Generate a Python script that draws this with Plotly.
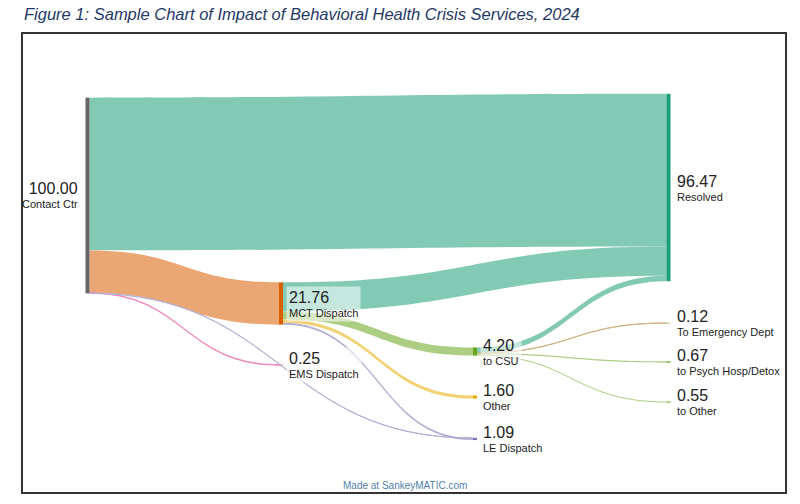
import plotly.graph_objects as go

W, H = 800, 504

# ---------------- data ----------------
node_names = ["Contact Ctr", "Resolved", "MCT Dispatch", "EMS Dispatch", "to CSU",
              "Other", "LE Dispatch", "To Emergency Dept", "to Psych Hosp/Detox", "to Other"]
node_values = ["100.00", "96.47", "21.76", "0.25", "4.20", "1.60", "1.09", "0.12", "0.67", "0.55"]

link_source = ["Contact Ctr", "Contact Ctr", "Contact Ctr", "Contact Ctr",
               "MCT Dispatch", "MCT Dispatch", "MCT Dispatch", "MCT Dispatch",
               "to CSU", "to CSU", "to CSU", "to CSU"]
link_target = ["Resolved", "MCT Dispatch", "EMS Dispatch", "LE Dispatch",
               "Resolved", "to CSU", "Other", "LE Dispatch",
               "Resolved", "To Emergency Dept", "to Psych Hosp/Detox", "to Other"]
link_value = [78.65, 21.76, 0.25, 0.09,
              14.96, 4.20, 1.60, 1.00,
              2.86, 0.12, 0.67, 0.55]

# ---------------- layout / styling ----------------
node_colors = ["#666666", "#1b9e77", "#d95f02", "#e7298a", "#66a61e",
               "#e6ab02", "#7570b3", "#a6761d", "#66a61e", "#66a61e"]
# node centre positions in pixels
node_px = [87.5, 668.5, 281, 281, 475, 475, 475, 668.5, 668.5, 668.5]
node_py = [195.5, 187.5, 303.5, 365, 351.5, 397, 439, 323, 362, 402]
label_side = ["left", "right", "right", "right", "right", "right", "right", "right", "right", "right"]

DX0, DX1 = 80, 680     # sankey area in px
DY0, DY1 = 90, 445
THICK = 4


def blend(h, a):
    h = h.lstrip("#")
    r, g, b = int(h[0:2], 16), int(h[2:4], 16), int(h[4:6], 16)
    f = lambda c: round(255 - a * (255 - c))
    return f"rgb({f(r)},{f(g)},{f(b)})"


idx = {n: i for i, n in enumerate(node_names)}
src = [idx[s] for s in link_source]
tgt = [idx[t] for t in link_target]
link_colors = [blend(node_colors[t], 0.55) for t in tgt]

nx = [(p - DX0) / (DX1 - DX0) for p in node_px]
ny = [(p - DY0) / (DY1 - DY0) for p in node_py]

fig = go.Figure(go.Sankey(
    arrangement="fixed",
    domain=dict(x=[DX0 / W, DX1 / W], y=[1 - DY1 / H, 1 - DY0 / H]),
    node=dict(
        label=node_names,
        x=nx, y=ny,
        color=node_colors,
        thickness=THICK,
        pad=55,
        align="left",
        line=dict(width=0),
    ),
    link=dict(
        source=src, target=tgt, value=link_value,
        color=link_colors,
        line=dict(width=0),
    ),
    textfont=dict(color="rgba(0,0,0,0)", size=1),
))

annotations = []
for i, name in enumerate(node_names):
    if label_side[i] == "left":
        x = node_px[i] - THICK / 2 - 5
        xa = "right"
        bg = "rgba(0,0,0,0)"
    else:
        x = node_px[i] + THICK / 2 + 3
        xa = "left"
        bg = "rgba(255,255,255,0.55)"
    annotations.append(dict(
        x=x / W, y=1 - node_py[i] / H, xref="paper", yref="paper",
        xanchor=xa, yanchor="middle", align=xa, showarrow=False,
        text=f"<span style='font-size:16px'>{node_values[i]}</span><br>"
             f"<span style='font-size:11px'>{name}</span>",
        font=dict(family="Liberation Sans, Arial, sans-serif", color="#222222", size=11),
        bgcolor=bg, borderpad=2,
    ))

annotations.append(dict(
    x=22 / W, y=1 - 14 / H, xref="paper", yref="paper", xanchor="left", yanchor="middle",
    showarrow=False,
    text="Figure 1: Sample Chart of Impact of Behavioral Health Crisis Services, 2024",
    font=dict(family="Liberation Sans, Arial, sans-serif", size=16.5, color="#1f3864", style="italic"),
))
annotations.append(dict(
    x=405 / W, y=1 - 485 / H, xref="paper", yref="paper", xanchor="center", yanchor="middle",
    showarrow=False, text="Made at SankeyMATIC.com",
    font=dict(family="Liberation Sans, Arial, sans-serif", size=10, color="#4f7fa8"),
))

fig.update_layout(
    width=W, height=H,
    margin=dict(l=0, r=0, t=0, b=0),
    paper_bgcolor="white",
    annotations=annotations,
    shapes=[dict(type="rect", xref="paper", yref="paper",
                 x0=22 / W, x1=786 / W, y0=1 - 493 / H, y1=1 - 33 / H,
                 line=dict(color="#333333", width=2))],
)

fig.write_html("out.html")
